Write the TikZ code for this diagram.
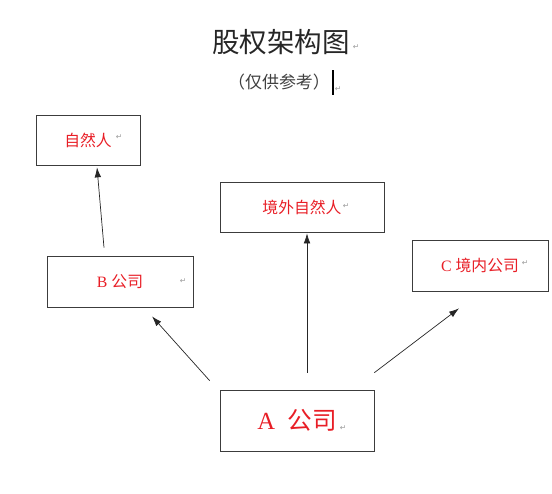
\documentclass[tikz,border=0pt]{standalone}
\usepackage{fontspec}
\setmainfont{Liberation Serif}
\newfontfamily\cjk{Noto Sans CJK SC}
\newfontfamily\symfont{DejaVu Sans}
\usetikzlibrary{arrows.meta}
\definecolor{labelred}{RGB}{232,30,38}
\definecolor{boxgray}{RGB}{60,60,60}

\begin{document}
\begin{tikzpicture}[x=0.3mm, y=-0.3mm,
    box/.style={draw=boxgray, line width=0.6pt, inner sep=0pt, text=labelred, font=\fontsize{13.5}{15}\selectfont},
    mk/.style={inner sep=0pt, font=\symfont\fontsize{6.5}{7}\selectfont, text=gray!80},
    arr/.style={-{Latex[length=3mm,width=2mm]}, line width=0.6pt, draw=black!85}]
    \useasboundingbox (0,0) rectangle (552,493);

    \node[text=black!85, font=\cjk\fontsize{23.5}{26}\selectfont] (title) at (281,42) {股权架构图};
    \node[text=black!75, font=\cjk\fontsize{14.5}{16}\selectfont] (sub) at (279,82) {（仅供参考）};
    \node[mk] (m0) at (356,47) {↵};
    \node[mk] (m1) at (338,89) {↵};
    \draw[line width=1.3pt] (333,70) -- (333,95);

    \node[box, minimum width=31.2mm, minimum height=15mm] (nat) at (88,140) {\cjk 自然人};
    \node[box, minimum width=43.8mm, minimum height=15.3mm] (b) at (120,281.5) {B {\cjk 公司}};
    \node[box, minimum width=49.2mm, minimum height=15mm] (ext) at (302,207) {\cjk 境外自然人};
    \node[box, minimum width=40.8mm, minimum height=15.3mm] (c) at (480,265.5) {C {\cjk 境内公司}};
    \node[box, minimum width=46.2mm, minimum height=18.3mm, font=\fontsize{21}{23}\selectfont] (a) at (297,420.5) {A\hspace{0.5em}{\cjk 公司}};

    \node[mk] (m2) at (119,137) {↵};
    \node[mk] (m3) at (183,281) {↵};
    \node[mk] (m4) at (346,206) {↵};
    \node[mk] (m5) at (525,263) {↵};
    \node[mk] (m6) at (343,428) {↵};

    \draw[arr] ([shift={(-16,-8)}]b.north) -- ([shift={(9,2)}]nat.south);
    \draw[arr] ([shift={(10,-17)}]a.north) -- ([shift={(5,1)}]ext.south);
    \draw[arr] ([shift={(-10,-9)}]a.north west) -- ([shift={(32,9)}]b.south);
    \draw[arr] ([shift={(0,-17)}]a.north east) -- ([shift={(-21,17)}]c.south);
\end{tikzpicture}
\end{document}
